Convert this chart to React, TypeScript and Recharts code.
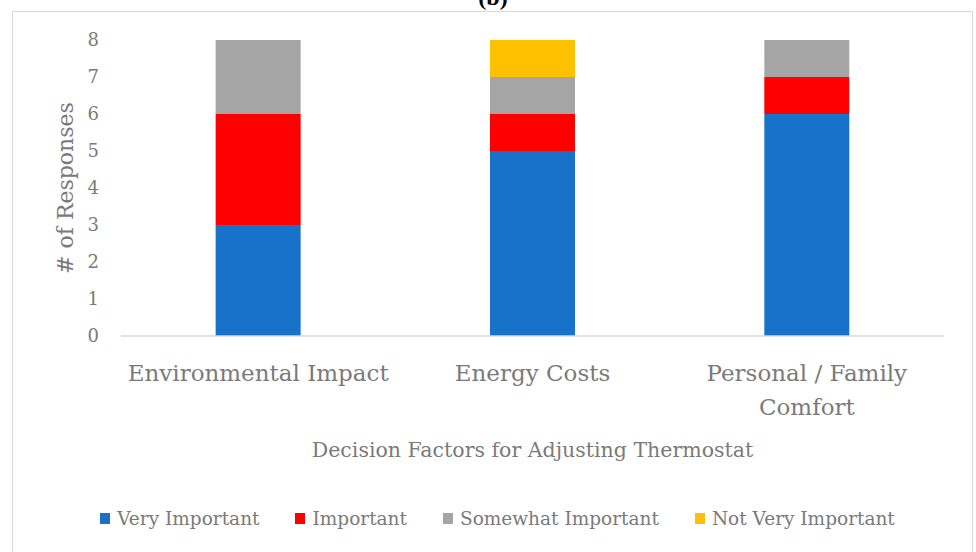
import { BarChart, Bar, XAxis, YAxis, Legend, Label } from 'recharts';

// Survey responses per decision factor, stacked by importance level
const factors = ['Environmental Impact', 'Energy Costs', 'Personal / Family Comfort'];
const veryImportant = [3, 5, 6];
const important = [3, 1, 1];
const somewhatImportant = [2, 1, 1];
const notVeryImportant = [0, 1, 0];
const yTicks = [0, 1, 2, 3, 4, 5, 6, 7, 8];

const seriesNames = ['Very Important', 'Important', 'Somewhat Important', 'Not Very Important'];
const seriesKeys = ['very', 'important', 'somewhat', 'notVery'];
const seriesColors = ['#1872c9', '#ff0000', '#a5a5a5', '#ffc000'];

const data = factors.map((f, i) => ({
  factor: f,
  very: veryImportant[i],
  important: important[i],
  somewhat: somewhatImportant[i],
  notVery: notVeryImportant[i],
}));

const FONT = '"DejaVu Serif", serif';
const TEXT = '#7a7a7a';

// split long category names onto two lines
const wrap = (s: string, max = 20) => {
  if (s.length <= max) return [s];
  const cut = s.lastIndexOf(' ', max);
  return [s.slice(0, cut), s.slice(cut + 1)];
};

const CategoryTick = ({ x, y, payload }: any) => {
  const lines = wrap(payload.value);
  return (
    <text x={x} y={y} textAnchor="middle" fill={TEXT} fontFamily={FONT} fontSize={23}>
      {lines.map((l, i) => (
        <tspan key={i} x={x} dy={i === 0 ? 37 : 34}>{l}</tspan>
      ))}
    </text>
  );
};

const LegendContent = () => (
  <div style={{ display: 'flex', justifyContent: 'center', gap: 36, height: 30, alignItems: 'center', fontFamily: FONT, fontSize: 18.5, color: TEXT, paddingLeft: 10 }}>
    {seriesNames.map((n, i) => (
      <div key={n} style={{ display: 'flex', alignItems: 'center' }}>
        <span style={{ width: 10, height: 11, background: seriesColors[i], marginRight: 7, display: 'inline-block' }} />
        <span>{n}</span>
      </div>
    ))}
  </div>
);

export default function App() {
  return (
    <div style={{ position: 'fixed', left: 0, top: 0, width: 976, height: 552, overflow: 'hidden', background: '#fff' }}>
      <div style={{ position: 'absolute', left: 12, top: 11, width: 959, height: 600, border: '1px solid #d9d9d9' }} />
      <div style={{ position: 'absolute', left: 0, width: 986, top: -16, textAlign: 'center', fontFamily: '"Liberation Serif", serif', fontWeight: 'bold', fontSize: 24, color: '#000' }}>
        (b)
      </div>
      <div style={{ position: 'absolute', left: 0, top: 0 }}>
        <BarChart width={976} height={552} data={data} barCategoryGap="34.5%" margin={{ top: 40, right: 32, left: 41, bottom: 19 }}>
          <XAxis
            dataKey="factor"
            tick={<CategoryTick />}
            tickLine={false}
            axisLine={{ stroke: '#d9d9d9', strokeWidth: 1.5 }}
            interval={0}
            height={167}
          >
            <Label value="Decision Factors for Adjusting Thermostat" position="insideTop" offset={106} fill={TEXT} fontFamily={FONT} fontSize={20.5} />
          </XAxis>
          <YAxis
            domain={[0, 8]}
            ticks={yTicks}
            tickLine={false}
            axisLine={false}
            width={80}
            tick={{ fill: TEXT, fontFamily: FONT, fontSize: 18 }}
            tickMargin={16}
          >
            <Label value="# of Responses" angle={-90} position="insideLeft" offset={24} fill={TEXT} fontFamily={FONT} fontSize={22} style={{ textAnchor: 'middle' }} />
          </YAxis>
          <Legend verticalAlign="bottom" content={<LegendContent />} />
          {seriesKeys.map((k, i) => (
            <Bar key={k} dataKey={k} name={seriesNames[i]} stackId="a" fill={seriesColors[i]} isAnimationActive={false} />
          ))}
        </BarChart>
      </div>
    </div>
  );
}
